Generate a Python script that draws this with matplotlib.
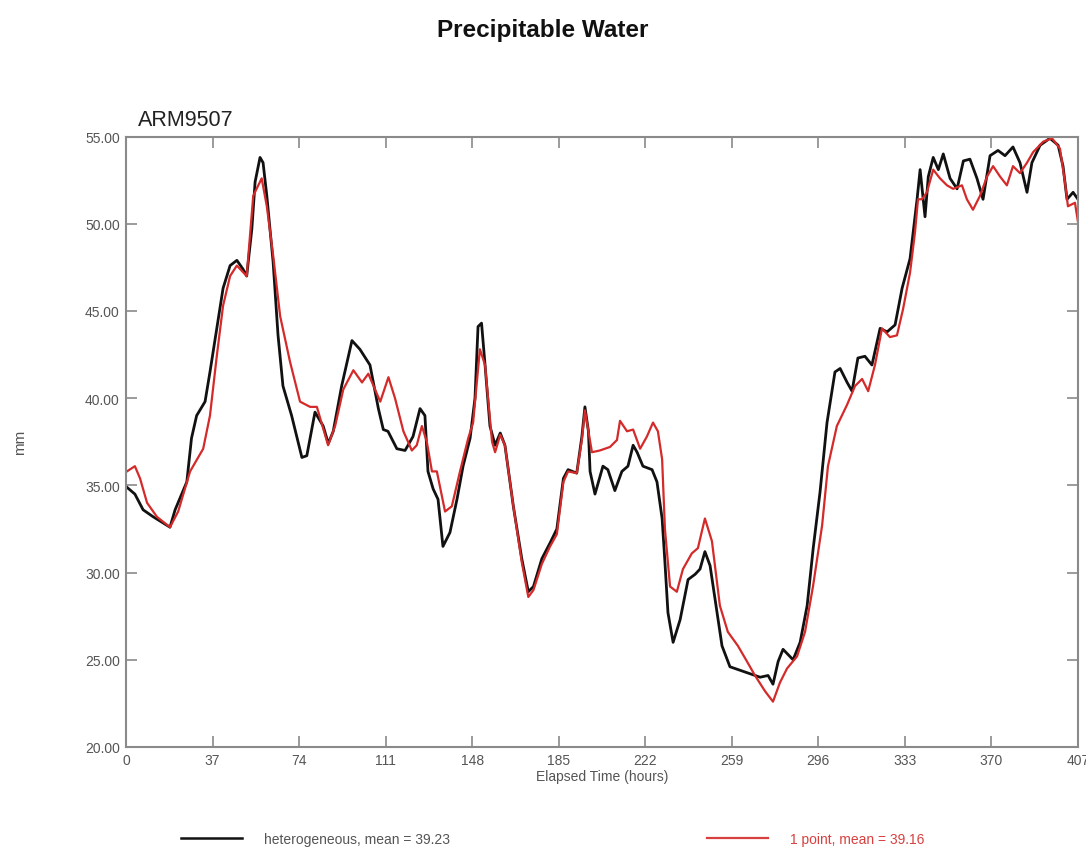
import matplotlib
matplotlib.use("Agg")
import matplotlib.pyplot as plt
from matplotlib.lines import Line2D

plt.rcParams["font.family"] = ["Liberation Sans", "DejaVu Sans"]

# Precipitable water, heterogeneous surface run (hours, mm)
hetero_hours = [0.3, 3.8, 7.3, 11.6, 18.8, 21, 26, 28, 30.2, 33.8, 35.9, 38.8, 41.5, 44.5, 47.4,
                50, 51.6, 53.8, 55.2, 57.3, 58.6, 60.2, 62.9, 65, 67.1, 70.8, 75.2, 77.3,
                80.8, 84.3, 86.5, 88.6, 92.2, 96.6, 100, 104.3, 107.9, 110, 112, 115.8, 119.3,
                122.7, 125.7, 127.8, 129.1, 131.3, 133.4, 135.5, 138.5, 141.5, 144.1, 147.1,
                149.2, 150.5, 152, 153.5, 155.6, 157.8, 160, 162, 165.6, 169.2, 172, 174.2,
                177.8, 181.3, 184.2, 187, 189, 192.7, 194.9, 196.2, 197.7, 198.4, 200.5,
                203.9, 206, 209, 212, 214.6, 216.8, 218.5, 221, 224.9, 227, 229.2, 230.4,
                231.7, 233.9, 236.9, 240.3, 243.3, 245.4, 247.5, 249.7, 252.7, 254.8, 258.2,
                262.5, 266.8, 271.1, 274.5, 276.6, 278.8, 280.9, 285.2, 288.2, 291.2, 293.8,
                296.7, 299.7, 303.1, 305.3, 308.3, 310.4, 312.9, 315.9, 318.9, 322.4, 325.4,
                328.8, 331.8, 335.2, 338.2, 339.5, 341.6, 343, 345.1, 347.3, 349.4, 352.3,
                355.3, 358, 360.8, 363.8, 366.4, 369.4, 372.8, 375.8, 379.2, 382.2, 385.2,
                387.3, 390.8, 395, 398.5, 400.6, 402.3, 404.9, 407]
hetero_pw = [34.9, 34.5, 33.6, 33.2, 32.6, 33.6, 35.2, 37.7, 39.0, 39.8, 41.5, 44.0, 46.3, 47.6, 47.9,
             47.4, 47.0, 49.7, 52.4, 53.8, 53.5, 51.6, 47.8, 43.6, 40.7, 39.0, 36.6, 36.7,
             39.2, 38.4, 37.4, 38.1, 40.7, 43.3, 42.8, 41.9, 39.4, 38.2, 38.1, 37.1, 37.0,
             37.8, 39.4, 39.0, 35.8, 34.8, 34.2, 31.5, 32.3, 34.2, 36.1, 37.7,
             40.0, 44.1, 44.3, 41.9, 38.4, 37.3, 38.0, 37.3, 33.8, 30.8, 28.9, 29.2,
             30.8, 31.7, 32.5, 35.4, 35.9, 35.7, 37.8, 39.5, 38.1, 35.8, 34.5,
             36.1, 35.9, 34.7, 35.8, 36.1, 37.3, 36.9, 36.1, 35.9, 35.2, 33.1, 30.6,
             27.7, 26.0, 27.3, 29.6, 29.9, 30.2, 31.2, 30.4, 27.7, 25.8, 24.6,
             24.4, 24.2, 24.0, 24.1, 23.6, 24.9, 25.6, 25.0, 26.0, 28.1, 31.4,
             34.6, 38.6, 41.5, 41.7, 40.9, 40.4, 42.3, 42.4, 41.9, 44.0, 43.8,
             44.2, 46.3, 48.0, 51.4, 53.1, 50.4, 52.7, 53.8, 53.1, 54.0, 52.6,
             52.0, 53.6, 53.7, 52.6, 51.4, 53.9, 54.2, 53.9, 54.4, 53.5, 51.8,
             53.5, 54.5, 54.9, 54.5, 53.3, 51.4, 51.8, 51.4]

# Precipitable water, single-point run (hours, mm)
single_hours = [0.4, 3.8, 6, 9, 13.2, 18.8, 22.3, 27.4, 33, 35.9, 38.8, 41.5, 44.5, 47.4, 51.6,
                54.4, 58, 60.2, 62.9, 65.9, 70.1, 74.4, 78.7, 81.6, 86.4, 89.4, 92.9, 97.2,
                100.9, 103.6, 108.7, 112.2, 115, 118.6, 122.2, 124.3, 126.5, 128.6, 130.8,
                132.9, 136.4, 139.3, 142.8, 146.3, 148.4, 151.3, 153.5, 156.5, 157.8, 160,
                162, 165.6, 169.2, 172, 174.2, 177.8, 181.3, 184.2, 187, 189, 192.7, 194.9,
                196.2, 199.2, 202.6, 206.9, 209.9, 211.2, 214.2, 216.8, 219.8, 222.7, 225.3,
                227.4, 229.2, 230.4, 232.6, 235.5, 238.1, 241.9, 244.5, 247.5, 250.5, 253.9,
                257.3, 261.6, 265.5, 268.9, 273.2, 276.6, 279.6, 282.6, 286.9, 290.3, 293.7,
                297.6, 300.1, 303.9, 308.2, 311.7, 314.7, 317.3, 320.2, 323.2, 326.6, 329.6,
                332.2, 335.2, 337.3, 338.6, 340.3, 342.4, 345.1, 348, 351, 353.6, 357.4,
                359.5, 362.1, 365.1, 368.1, 370.7, 373.7, 376.6, 379.2, 382.2, 385.2, 387.8,
                392.1, 395.9, 399.3, 401.4, 402.7, 405.7, 407]
single_pw = [35.8, 36.1, 35.4, 34.0, 33.2, 32.6, 33.5, 35.8, 37.1, 39.0, 42.4, 45.3, 47.0, 47.6, 47.0,
             51.6, 52.6, 51.0, 48.2, 44.7, 42.1, 39.8, 39.5, 39.5, 37.3, 38.4, 40.5, 41.6,
             40.9, 41.4, 39.8, 41.2, 40.0, 38.1, 37.0, 37.3, 38.4, 37.5, 35.8,
             35.8, 33.5, 33.8, 35.8, 37.7, 38.6, 42.8, 41.9, 37.5, 36.9, 37.9,
             37.3, 33.8, 30.6, 28.6, 29.0, 30.5, 31.5, 32.2, 35.2, 35.8, 35.7, 37.6,
             39.3, 36.9, 37.0, 37.2, 37.6, 38.7, 38.1, 38.2, 37.1, 37.8, 38.6,
             38.1, 36.5, 32.5, 29.2, 28.9, 30.2, 31.1, 31.4, 33.1, 31.8, 28.1,
             26.6, 25.8, 24.9, 24.1, 23.2, 22.6, 23.7, 24.5, 25.2, 26.6, 29.2,
             32.7, 36.1, 38.4, 39.6, 40.7, 41.1, 40.4, 41.9, 44.0, 43.5, 43.6,
             45.1, 47.2, 49.5, 51.4, 51.4, 51.8, 53.1, 52.6, 52.2, 52.0, 52.2,
             51.4, 50.8, 51.6, 52.7, 53.3, 52.7, 52.2, 53.3, 52.9, 53.5, 54.1,
             54.7, 54.9, 54.3, 52.4, 51.0, 51.2, 50.1]

x_ticks = [0, 37, 74, 111, 148, 185, 222, 259, 296, 333, 370, 407]
y_ticks = [20, 25, 30, 35, 40, 45, 50, 55]

hetero_label = "heterogeneous, mean = 39.23"
single_label = "1 point, mean = 39.16"

BLACK = "#111111"
RED = "#d42a2a"
LEG_RED = "#d84040"
GRAY = "#8a8a8a"
TEXT_GRAY = "#555555"

W, H = 1086, 853
fig = plt.figure(figsize=(W / 100, H / 100), dpi=100)
ax = fig.add_axes([126 / W, 1 - 748 / H, 952 / W, 610.5 / H])

ax.plot(hetero_hours, hetero_pw, color=BLACK, lw=2.0, solid_joinstyle="round")
ax.plot(single_hours, single_pw, color=RED, lw=1.6, solid_joinstyle="round")

ax.set_xlim(0, 407)
ax.set_ylim(20, 55)
ax.set_xticks(x_ticks)
ax.set_yticks(y_ticks)
ax.set_yticklabels([f"{v:.2f}" for v in y_ticks])
ax.tick_params(direction="in", length=8, width=1.2, color=GRAY, labelsize=10,
               labelcolor=TEXT_GRAY, top=True, right=True, pad=4.5)
ax.tick_params(axis="x", pad=4)
for s in ax.spines.values():
    s.set_color(GRAY)
    s.set_linewidth(1.5)

ax.set_xlabel("Elapsed Time (hours)", fontsize=10, color=TEXT_GRAY, labelpad=2)
ax.set_ylabel("mm", fontsize=11, color=TEXT_GRAY)
ax.yaxis.set_label_coords((27 - 126) / 952, 0.5)

ax.text(12 / 952, 1.01, "ARM9507", transform=ax.transAxes, fontsize=15.5,
        color="#222222", ha="left", va="bottom")
fig.text(0.5, 1 - 30 / H, "Precipitable Water", ha="center", va="center",
         fontsize=17.5, fontweight="bold", color="#111111")

h_black = Line2D([], [], color=BLACK, lw=1.8)
h_red = Line2D([], [], color=LEG_RED, lw=1.6)
leg_y = 1 - 840 / H
leg1 = fig.legend([h_black], [hetero_label], loc="center left",
                  bbox_to_anchor=(168 / W, leg_y), frameon=False,
                  fontsize=10, handlelength=4.4, handletextpad=1.6)
leg2 = fig.legend([h_red], [single_label], loc="center left",
                  bbox_to_anchor=(694 / W, leg_y), frameon=False,
                  fontsize=10, handlelength=4.4, handletextpad=1.6)
for t in leg1.get_texts():
    t.set_color(TEXT_GRAY)
for t in leg2.get_texts():
    t.set_color(LEG_RED)

fig.savefig("out.png", dpi=100)
